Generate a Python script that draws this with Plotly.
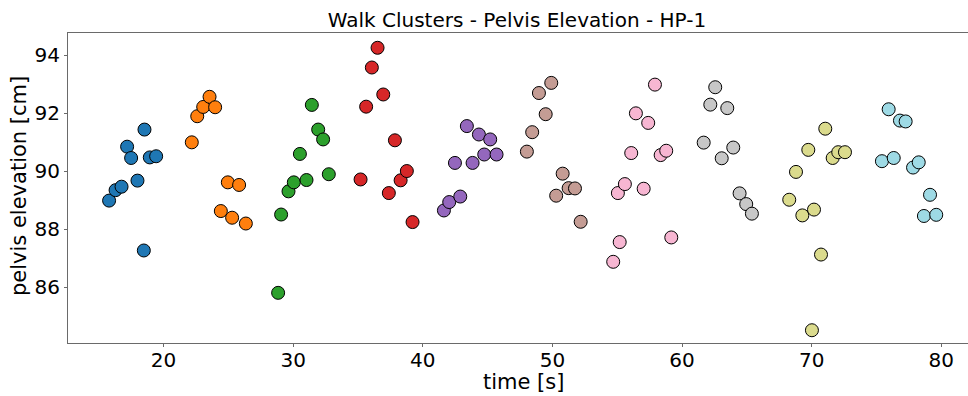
import plotly.graph_objects as go

# Walk clusters: time [s] and pelvis elevation [cm] for each cluster
cluster_times = [
    [15.80, 16.30, 16.76, 17.99, 17.19, 17.50, 18.53, 18.48, 18.94, 19.43],
    [22.18, 22.60, 23.06, 23.55, 23.98, 24.42, 24.96, 25.29, 25.83, 26.35],
    [28.84, 29.07, 29.64, 30.05, 30.52, 31.03, 31.44, 31.93, 32.31, 32.75],
    [35.20, 35.63, 36.07, 36.51, 36.95, 37.38, 37.85, 38.29, 38.77, 39.21],
    [41.63, 42.04, 42.48, 42.89, 43.40, 43.84, 44.33, 44.74, 45.20, 45.69],
    [48.03, 48.44, 48.96, 49.48, 49.91, 50.29, 50.79, 51.25, 51.74, 52.18],
    [54.69, 55.05, 55.19, 55.59, 56.08, 56.44, 57.04, 57.39, 57.91, 58.35, 58.78, 59.17],
    [61.67, 62.18, 62.56, 63.06, 63.49, 63.95, 64.44, 64.95, 65.39],
    [68.27, 68.79, 69.28, 69.74, 70.02, 70.18, 70.72, 71.05, 71.62, 72.05, 72.57],
    [75.42, 75.94, 76.33, 76.81, 77.25, 77.82, 78.26, 78.66, 79.13, 79.61],
]
cluster_elevations = [
    [88.98, 89.34, 89.46, 89.67, 90.84, 90.45, 91.43, 87.26, 90.47, 90.51],
    [90.99, 91.89, 92.21, 92.56, 92.20, 88.62, 89.61, 88.39, 89.52, 88.19],
    [85.80, 88.50, 89.30, 89.61, 90.59, 89.69, 92.28, 91.43, 91.09, 89.89],
    [89.71, 92.22, 93.57, 94.25, 92.64, 89.24, 91.06, 89.68, 90.00, 88.24],
    [88.64, 88.93, 90.28, 89.12, 91.55, 90.28, 91.26, 90.57, 91.09, 90.57],
    [90.67, 91.34, 92.69, 91.96, 93.04, 89.15, 89.91, 89.41, 89.40, 88.25],
    [86.87, 89.24, 87.55, 89.55, 90.62, 91.99, 89.39, 91.66, 92.98, 90.55, 90.70, 87.71],
    [90.98, 92.29, 92.89, 90.44, 92.17, 90.81, 89.23, 88.86, 88.53],
    [89.01, 89.97, 88.47, 90.73, 84.51, 88.67, 87.12, 91.46, 90.45, 90.65, 90.65],
    [90.34, 92.13, 90.45, 91.74, 91.71, 90.12, 90.30, 88.45, 89.18, 88.49],
]
cluster_colors = [
    "#1f77b4", "#ff7f0e", "#2ca02c", "#d62728", "#9467bd",
    "#c49c94", "#f7b6d2", "#c7c7c7", "#dbdb8d", "#9edae5",
]
y_ticks = [86, 88, 90, 92, 94]
x_ticks = [20, 30, 40, 50, 60, 70, 80]

fig = go.Figure()
for t, e, c in zip(cluster_times, cluster_elevations, cluster_colors):
    fig.add_trace(go.Scatter(
        x=t, y=e, mode="markers",
        marker=dict(size=13, color=c, line=dict(color="black", width=1)),
        showlegend=False,
    ))

font = "DejaVu Sans, sans-serif"
spine = "#6a6a6a"
axis_common = dict(
    showline=True, linecolor=spine, linewidth=1,
    ticks="outside", ticklen=3, tickcolor=spine, tickwidth=1,
    showgrid=False, zeroline=False,
    tickfont=dict(family=font, size=20, color="black"),
)

fig.update_layout(
    width=968, height=396,
    margin=dict(l=68, r=0, t=33, b=53),
    paper_bgcolor="white", plot_bgcolor="white",
    title=dict(
        text="Walk Clusters - Pelvis Elevation - HP-1",
        x=0.534, xanchor="center", y=0.95, yanchor="middle",
        font=dict(family=font, size=20, color="black"),
    ),
    xaxis=dict(range=[12.63, 82.06], tickvals=x_ticks, mirror=True,
               ticklabelstandoff=-4, **axis_common),
    yaxis=dict(range=[84.07, 94.76], tickvals=y_ticks, mirror=False, **axis_common),
    annotations=[
        dict(text="time [s]", xref="paper", yref="paper", x=0.5061, y=-0.1258,
             xanchor="center", yanchor="middle", showarrow=False,
             font=dict(family=font, size=21, color="black")),
        dict(text="pelvis elevation [cm]", xref="paper", yref="paper", x=-0.0544, y=0.5065,
             xanchor="center", yanchor="middle", textangle=-90, showarrow=False,
             font=dict(family=font, size=21, color="black")),
    ],
)

fig.write_html("out.html")
